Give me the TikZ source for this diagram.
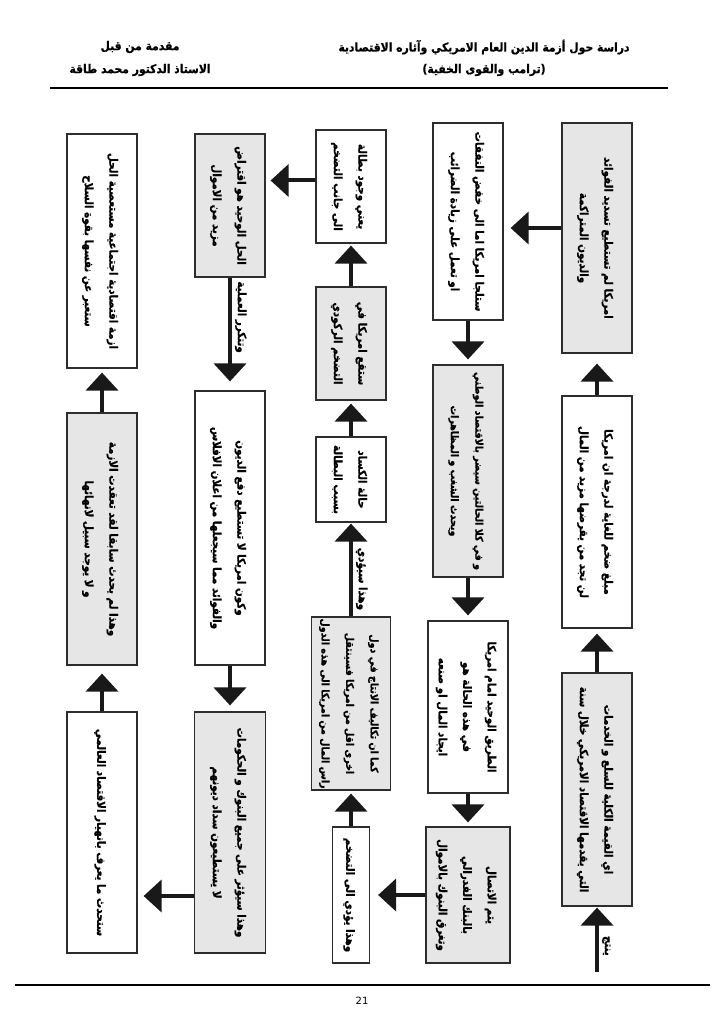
\documentclass[tikz,border=0pt]{standalone}
\usepackage{fontspec}
\usepackage{graphicx}
\usetikzlibrary{arrows.meta,positioning}
\newfontfamily\arabicfont[Script=Arabic,FakeStretch=0.9,BoldFeatures={FakeBold=0.8}]{DejaVu Sans}
\newfontfamily\numfont{DejaVu Sans}
\TeXXeTstate=1
\newcommand{\artext}[1]{\beginR #1\endR}
\newcommand{\vtext}[1]{\rotatebox{-90}{\begin{tabular}{@{}c@{}}#1\end{tabular}}}
\definecolor{boxgray}{RGB}{230,230,230}
\definecolor{boxedge}{RGB}{45,45,45}
\tikzset{
	every node/.style={font=\arabicfont\bfseries\fontsize{11.5}{24.5}\selectfont},
	box/.style={draw=boxedge, line width=1.2pt, inner sep=0pt},
	wbox/.style={box, fill=white},
	gbox/.style={box, fill=boxgray},
	tight/.style={font=\arabicfont\bfseries\fontsize{10.6}{24.5}\selectfont},
	arr/.style={-{Triangle[width=32pt,length=18pt]}, line width=4pt, draw=black!90, shorten >=5pt},
	lab/.style={rotate=-90, anchor=south, inner sep=3pt},
	hdr/.style={font=\arabicfont\bfseries\fontsize{12}{14}\selectfont},
}

\begin{document}
\begin{tikzpicture}[x=1pt,y=-1pt]
		\useasboundingbox (0,0) rectangle (724,1024);

		\node[hdr] (title1) at (484,47) {\artext{دراسة حول أزمة الدين العام الامريكي وآثاره الاقتصادية}};
		\node[hdr] (title2) at (484,70) {\artext{(ترامب والقوى الخفية)}};
		\node[hdr] (by1) at (140,47) {\artext{مقدمة من قبل}};
		\node[hdr] (by2) at (140,70) {\artext{الاستاذ الدكتور محمد طاقة}};
		\draw[line width=1.5pt] (50,88) -- (668,88);

		\node[gbox, minimum width=70pt, minimum height=233pt] (g1c) at (597,789.5) {\vtext{\artext{اي القيمة الكلية للسلع و الخدمات}\\ \artext{التي يقدمها الاقتصاد الامريكي خلال سنة}}};
		\node[wbox, minimum width=70pt, minimum height=232pt] (w1b) at (597,512) {\vtext{\artext{مبلغ ضخم للغاية لدرجة ان امريكا}\\ \artext{لن تجد من يقرضها مزيد من المال}}};
		\node[gbox, minimum width=70pt, minimum height=230pt] (g1a) at (597,238) {\vtext{\artext{امريكا لم تستطيع تسديد الفوائد}\\ \artext{والديون المتراكمة}}};

		\node[wbox, minimum width=70pt, minimum height=197pt] (w2a) at (468,221.5) {\vtext{\artext{ستلجا امريكا اما الى خفض النفقات}\\ \artext{او تعمل على زيادة الضرائب}}};
		\node[gbox, tight, minimum width=70pt, minimum height=212pt] (g2b) at (468,471) {\vtext{\artext{و في كلا الحالتين سيضر بالاقتصاد الوطني}\\ \artext{ويحدث الشغب و المظاهرات}}};
		\node[wbox, minimum width=80pt, minimum height=172pt] (w2c) at (468,707) {\vtext{\artext{الطريق الوحيد امام امريكا}\\ \artext{في هذه الحالة هو}\\ \artext{ايجاد المال او صنعه}}};
		\node[gbox, minimum width=84pt, minimum height=136pt] (g2d) at (468,895) {\vtext{\artext{يتم الاتصال}\\ \artext{بالبنك الفدرالي}\\ \artext{وتغرق البنوك بالاموال}}};

		\node[wbox, minimum width=37pt, minimum height=136pt] (w3a) at (351,895) {\vtext{\artext{وهذا يؤدي الى التضخم}}};
		\node[gbox, tight, minimum width=79pt, minimum height=173pt] (g3b) at (351,703.5) {\vtext{\artext{كما ان تكاليف الانتاج في دول}\\ \artext{اخرى اقل من امريكا فسينتقل}\\ \artext{راس المال من امريكا الى هذه الدول}}};
		\node[wbox, minimum width=70pt, minimum height=85pt] (w3c) at (351,479.5) {\vtext{\artext{حالة الكساد}\\ \artext{بسبب البطالة}}};
		\node[gbox, minimum width=70pt, minimum height=113pt] (g3d) at (351,343.5) {\vtext{\artext{ستقع امريكا في}\\ \artext{التضخم الركودي}}};
		\node[wbox, minimum width=70pt, minimum height=113pt] (w3e) at (351,186.5) {\vtext{\artext{يعني وجود بطالة}\\ \artext{الى جانب التضخم}}};

		\node[gbox, minimum width=70pt, minimum height=143pt] (g4a) at (230,205.5) {\vtext{\artext{الحل الوحيد هو اقتراض}\\ \artext{مزيد من الاموال}}};
		\node[wbox, minimum width=70pt, minimum height=274pt] (w4b) at (230,528) {\vtext{\artext{وكون امريكا لا تستطيع دفع الديون}\\ \artext{والفوائد مما سيجعلها من اعلان الافلاس}}};
		\node[gbox, minimum width=71pt, minimum height=241pt] (g4c) at (230,832.5) {\vtext{\artext{وهذا سيؤثر على جميع البنوك و الحكومات}\\ \artext{لا يستطيعون سداد ديونهم}}};

		\node[wbox, minimum width=70pt, minimum height=241pt] (w5a) at (102,832.5) {\vtext{\artext{ستحدث ما يعرف بانهيار الاقتصاد العالمي}}};
		\node[gbox, minimum width=70pt, minimum height=252pt] (g5b) at (102,539) {\vtext{\artext{وهذا لم يحدث سابقا لقد تعقدت الازمة}\\ \artext{و لا يوجد سبيل لانهائها}}};
		\node[wbox, minimum width=70pt, minimum height=234pt] (w5c) at (102,251) {\vtext{\artext{ازمة اقتصادية اجتماعية مستعصية الحل}\\ \artext{ستعبر عن نفسها بقوة السلاح}}};

		\coordinate (start) at (597,972);
		\draw[arr, shorten >=1pt] (start) -- node[lab, pos=0.4]{\artext{ينتج}} (g1c);
		\draw[arr] (g1c) -- (w1b);
		\draw[arr, shorten >=10pt] (w1b) -- (g1a);
		\draw[arr, shorten >=7pt] ([yshift=10pt]g1a.west) -- ([yshift=10pt]g1a.west -| w2a.east);
		\draw[arr] (w2a) -- (g2b);
		\draw[arr] (g2b) -- (w2c);
		\draw[arr, shorten >=4pt] (w2c) -- (g2d);
		\draw[arr, shorten >=8pt] (g2d) -- (w3a);
		\draw[arr, shorten >=3pt] (w3a) -- (g3b);
		\draw[arr, shorten >=1pt] (g3b) -- node[lab, pos=0.4]{\artext{وهذا سيؤدي}} (w3c);
		\draw[arr, shorten >=3pt] (w3c) -- (g3d);
		\draw[arr, shorten >=2pt] (g3d) -- (w3e);
		\draw[arr] ([yshift=6pt]w3e.west) -- ([yshift=6pt]w3e.west -| g4a.east);
		\draw[arr, shorten >=9pt] (g4a) -- node[lab, pos=0.35]{\artext{وتتكرر العملية}} (w4b);
		\draw[arr, shorten >=6pt] (w4b) -- (g4c);
		\draw[arr, shorten >=6pt] ([yshift=-63.5pt]g4c.west) -- ([yshift=-63.5pt]g4c.west -| w5a.east);
		\draw[arr, shorten >=8pt] (w5a) -- (g5b);
		\draw[arr, shorten >=4pt] (g5b) -- (w5c);

		\draw[line width=1.5pt] (15,985) -- (710,985);
		\node[font=\numfont\fontsize{10}{12}\selectfont] (pagenum) at (362,1001) {21};
	\end{tikzpicture}
\end{document}
